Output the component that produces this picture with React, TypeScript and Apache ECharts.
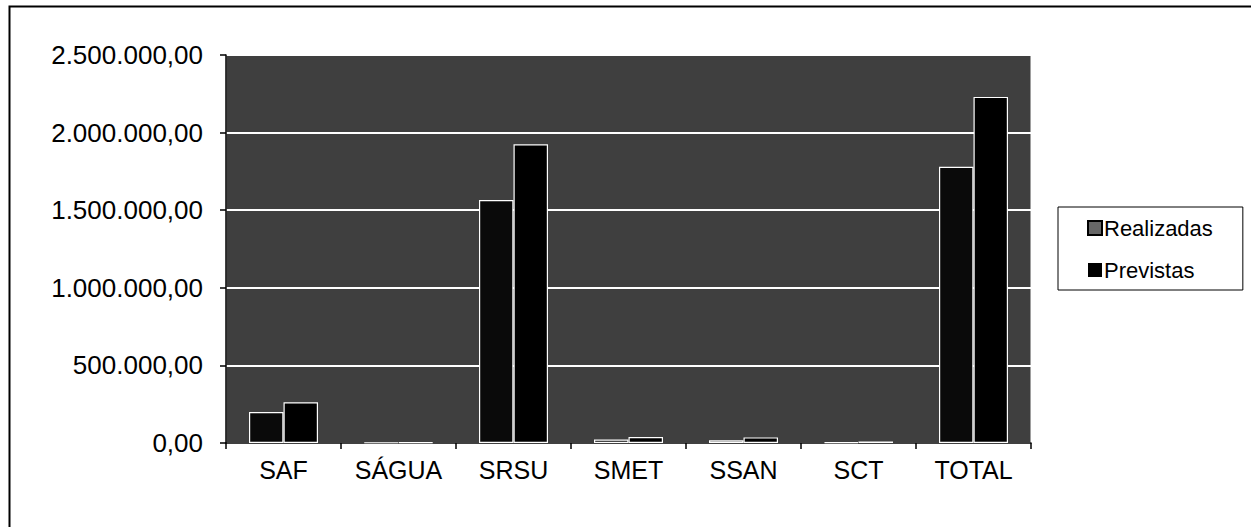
import React, { useEffect, useRef } from "react";
import * as echarts from "echarts";

const categories = ["SAF", "SÁGUA", "SRSU", "SMET", "SSAN", "SCT", "TOTAL"];
const realizadas = [200000, 3000, 1565000, 22000, 18000, 6000, 1780000];
const previstas = [262000, 4000, 1925000, 39000, 36000, 10000, 2230000];
const yMin = 0;
const yMax = 2500000;
const yStep = 500000;

function fmt(v: number): string {
  const s = Math.round(v).toString();
  const parts: string[] = [];
  for (let i = s.length; i > 0; i -= 3) parts.unshift(s.slice(Math.max(0, i - 3), i));
  return parts.join(".") + ",00";
}

export default function App() {
  const ref = useRef<HTMLDivElement>(null);
  useEffect(() => {
    if (!ref.current) return;
    const chart = echarts.init(ref.current, undefined, { renderer: "svg" });
    const font = "Liberation Sans, Arial, sans-serif";
    chart.setOption({
      animation: false,
      backgroundColor: "#ffffff",
      grid: {
        left: 226,
        right: 220,
        top: 55,
        bottom: 84,
        show: true,
        backgroundColor: "#3f3f3f",
        borderColor: "#ffffff",
        borderWidth: 1,
      },
      legend: {
        orient: "vertical",
        left: 1058,
        top: 207,
        padding: [9, 30, 8, 29],
        itemGap: 18,
        itemWidth: 14,
        itemHeight: 14,
        borderColor: "#000",
        borderWidth: 1,
        backgroundColor: "#fff",
        icon: "rect",
        textStyle: { fontFamily: font, fontSize: 22, color: "#000", lineHeight: 24, padding: [0, 0, 0, -3] },
        data: [
          { name: "Realizadas", itemStyle: { color: "#666", borderColor: "#000", borderWidth: 2 } },
          { name: "Previstas", itemStyle: { color: "#000", borderWidth: 0 } },
        ],
      },
      xAxis: {
        type: "category",
        data: categories,
        axisLine: { show: true, lineStyle: { color: "#000", width: 1.5 } },
        axisTick: { show: true, length: 6, lineStyle: { color: "#000", width: 1.5 } },
        axisLabel: { fontFamily: font, fontSize: 25, color: "#000", margin: 14 },
        splitLine: { show: false },
      },
      yAxis: {
        type: "value",
        min: yMin,
        max: yMax,
        interval: yStep,
        axisLine: { show: true, lineStyle: { color: "#000", width: 1.5 } },
        axisTick: { show: true, length: 6, lineStyle: { color: "#000", width: 1.5 } },
        axisLabel: {
          fontFamily: font,
          fontSize: 26,
          color: "#000",
          margin: 23,
          formatter: (v: number) => fmt(v),
        },
        splitLine: { show: true, lineStyle: { color: "#ffffff", width: 2 } },
      },
      series: [
        {
          name: "Realizadas",
          type: "bar",
          data: realizadas,
          barGap: "0%",
          barCategoryGap: "40%",
          itemStyle: { color: "#0a0a0a", borderColor: "#ffffff", borderWidth: 1.2 },
        },
        {
          name: "Previstas",
          type: "bar",
          data: previstas,
          barGap: "0%",
          barCategoryGap: "40%",
          itemStyle: { color: "#000000", borderColor: "#ffffff", borderWidth: 1.2 },
        },
      ],
      graphic: [
        {
          type: "rect",
          left: 7,
          top: 4,
          shape: { x: 0, y: 0, width: 1300, height: 600 },
          style: { fill: "none", stroke: "#000", lineWidth: 2 },
          silent: true,
        },
      ],
    });
    return () => chart.dispose();
  }, []);
  return (
    <div
      ref={ref}
      style={{ position: "fixed", left: 0, top: 0, width: 1251, height: 527 }}
    />
  );
}
